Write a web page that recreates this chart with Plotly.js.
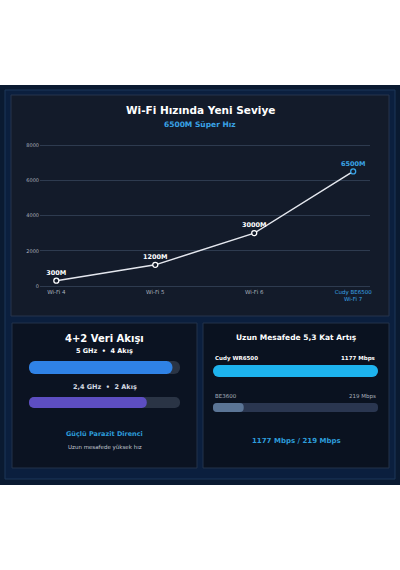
<!DOCTYPE html>
<html>
<head>
<meta charset="utf-8">
<script src="https://cdn.plot.ly/plotly-3.0.1.min.js"></script>
<style>
html,body{margin:0;padding:0;background:#ffffff;}
#chart{width:400px;height:570px;}
</style>
</head>
<body>
<div id="chart"></div>
<script>
// ---- data ----
var generations = ['Wi-Fi 4', 'Wi-Fi 5', 'Wi-Fi 6', 'Cudy BE6500<br>Wi-Fi 7'];
var speeds = [300, 1200, 3000, 6500];
var speedLabels = ['300M', '1200M', '3000M', '6500M'];
var yTicks = [0, 2000, 4000, 6000, 8000];

var streamLabels = ['5 GHz  •  4 Akış', '2,4 GHz  •  2 Akış'];
var streamFill = [95, 78];      // percent of track
var streamMax = 100;

var rangeNames = ['Cudy WR6500', 'BE3600'];
var rangeValues = [1177, 219];
var rangeValueLabels = ['1177 Mbps', '219 Mbps'];

// ---- helpers ----
var W = 400, H = 570;
function px(x){ return x / W; }
function py(y){ return 1 - y / H; }
var FONT = 'DejaVu Sans, Verdana, sans-serif';

var BLUE = '#3aa3e6';

function rect(x0, y0, x1, y1, fill, line, lw){
  return {type:'rect', xref:'paper', yref:'paper', x0:px(x0), x1:px(x1), y0:py(y1), y1:py(y0),
    fillcolor:fill, line:{color:line || 'rgba(0,0,0,0)', width: lw || 0}, layer:'below'};
}
function ann(text, x, y, size, color, bold, anchor){
  return {xref:'paper', yref:'paper', x:px(x), y:py(y), text: bold ? '<b>'+text+'</b>' : text,
    showarrow:false, xanchor: anchor || 'center', yanchor:'middle',
    font:{family:FONT, size:size, color:color}};
}

var shapes = [
  rect(0, 85, 400, 485, '#0a1a31'),
  rect(5, 90, 395, 479, '#0b1f3e', '#1d3658', 1),
  rect(11, 95, 389, 316, '#131b2a', '#26354d', 1),
  rect(12, 323, 197, 468, '#0b1322', '#22324b', 1),
  rect(203, 323, 389, 468, '#0a1220', '#22324b', 1)
];

var annotations = [
  ann('Wi-Fi Hızında Yeni Seviye', 200, 110, 10.5, '#ffffff', true),
  ann('6500M Süper Hız', 200, 124, 7.5, BLUE, true),
  ann('4+2 Veri Akışı', 104.5, 338, 10, '#ffffff', true),
  ann(streamLabels[0], 104.5, 351, 6.5, '#ffffff', true),
  ann(streamLabels[1], 104.5, 387, 6.5, '#d6dae2', true),
  ann('Güçlü Parazit Direnci', 104.5, 434, 6.5, '#2d9ddb', true),
  ann('Uzun mesafede yüksek hız', 104.5, 447, 5.5, '#c3c8d2', false),
  ann('Uzun Mesafede 5,3 Kat Artış', 296, 337, 7.5, '#ffffff', true),
  ann(rangeNames[0], 213, 358, 5.5, '#ffffff', true, 'left'),
  ann(rangeValueLabels[0], 378, 358, 5.5, '#ffffff', true, 'right'),
  ann(rangeNames[1], 213, 396, 5.5, '#a9b0bc', false, 'left'),
  ann(rangeValueLabels[1], 378, 396, 5.5, '#a9b0bc', false, 'right'),
  ann(rangeValueLabels[0] + ' / ' + rangeValueLabels[1], 296, 441, 7, '#2d9ddb', true)
];

var tickText = generations.map(function(g, i){
  return i === generations.length - 1 ? '<span style="color:' + BLUE + '">' + g + '</span>' : g;
});

var traces = [];
// line chart
traces.push({
  type:'scatter', mode:'lines+markers+text',
  x: generations.map(function(_, i){ return i; }),
  y: speeds,
  text: speedLabels.map(function(t){ return '<b>' + t + '</b>'; }),
  textposition:'top center',
  textfont:{family:FONT, size:6.5, color: speeds.map(function(_, i){ return i === speeds.length-1 ? BLUE : '#ffffff'; })},
  line:{color:'#e4e7ee', width:1.5},
  marker:{size:5, color:'#131b2a', line:{width:1.3, color: speeds.map(function(_, i){ return i === speeds.length-1 ? BLUE : '#ffffff'; })}},
  cliponaxis:false, hoverinfo:'skip', xaxis:'x', yaxis:'y'
});

// bars helper: track + fill on its own axis pair
var layoutAxes = {};
function addBar(n, value, max, fillColor, trackColor, x0, x1, y0, y1){
  var h = y1 - y0;
  var xa = 'x' + n, ya = 'y' + n;
  traces.push({type:'bar', orientation:'h', x:[max], y:[0], width:1, base:0,
    marker:{color:trackColor, cornerradius: h/2}, hoverinfo:'skip', xaxis:xa, yaxis:ya});
  traces.push({type:'bar', orientation:'h', x:[value], y:[0], width:1, base:0,
    marker:{color:fillColor, cornerradius: h/2}, hoverinfo:'skip', xaxis:xa, yaxis:ya});
  layoutAxes['xaxis' + n] = {domain:[px(x0), px(x1)], range:[0, max], visible:false, fixedrange:true, anchor:ya};
  layoutAxes['yaxis' + n] = {domain:[py(y1), py(y0)], range:[-0.5, 0.5], visible:false, fixedrange:true, anchor:xa};
}
addBar(2, streamFill[0], streamMax, '#2f82e6', '#2a3445', 29, 180, 361, 374);
addBar(3, streamFill[1], streamMax, '#5d4ec2', '#2a3445', 29, 180, 397, 408);
addBar(4, rangeValues[0], rangeValues[0], '#1db3ee', '#2a3650', 213, 378, 365, 377);
addBar(5, rangeValues[1], rangeValues[0], '#5b7596', '#2a3650', 213, 378, 403, 412);

var layout = {
  width:W, height:H, margin:{l:0, r:0, t:0, b:0},
  paper_bgcolor:'#ffffff', plot_bgcolor:'rgba(0,0,0,0)',
  showlegend:false, barmode:'overlay',
  shapes:shapes, annotations:annotations,
  xaxis:{domain:[px(40), px(370)], range:[-0.165, 3.17], tickvals:[0,1,2,3], ticktext:tickText,
    showgrid:false, zeroline:false, showline:false, ticks:'', fixedrange:true,
    tickfont:{family:FONT, size:5.5, color:'#aab1bd'}, anchor:'y'},
  yaxis:{domain:[py(287.76), py(143.24)], range:[-100, 8100], tickvals:yTicks, ticktext:yTicks.map(String),
    showgrid:true, gridcolor:'#2e3b4f', gridwidth:1, zeroline:true, zerolinecolor:'#2e3b4f', zerolinewidth:1,
    showline:false, ticks:'', fixedrange:true,
    tickfont:{family:FONT, size:5, color:'#aab1bd'}, anchor:'x'}
};
for (var k in layoutAxes) layout[k] = layoutAxes[k];

Plotly.newPlot('chart', traces, layout, {displayModeBar:false, staticPlot:true});
</script>
</body>
</html>
